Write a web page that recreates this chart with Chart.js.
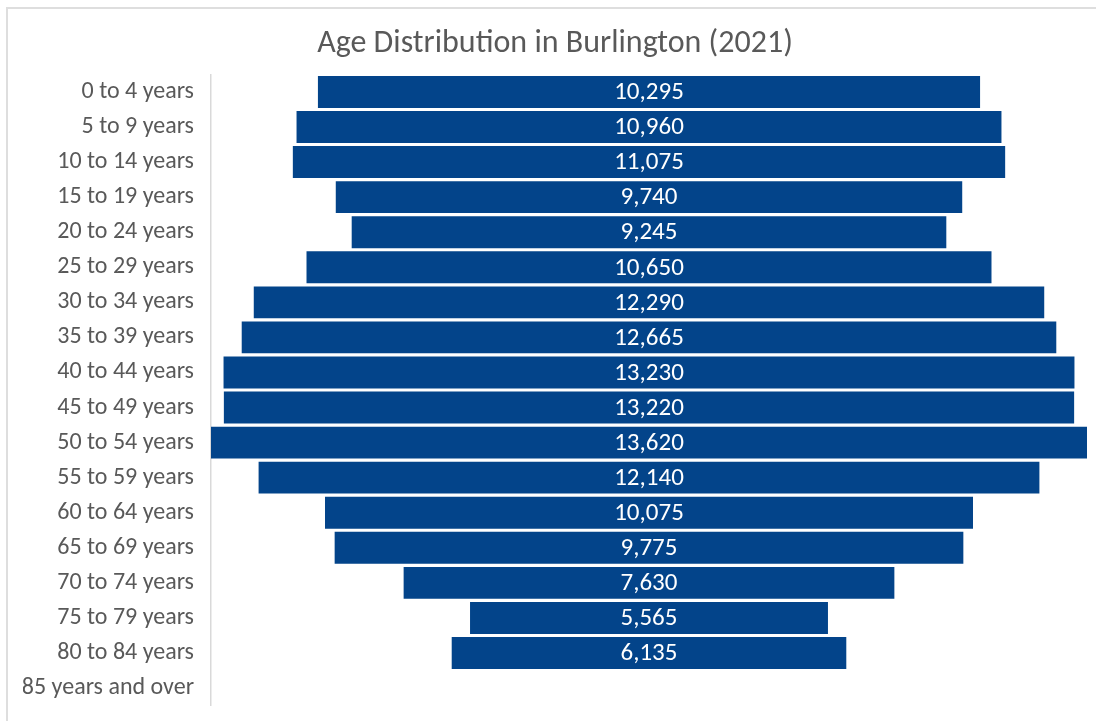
<!DOCTYPE html>
<html>
<head>
<meta charset="utf-8">
<script src="https://cdn.jsdelivr.net/npm/chart.js@4"></script>
<style>
  body { margin: 0; background: #fff; }
  #wrap { position: relative; width: 1096px; height: 721px; overflow: hidden; }
  #frame { position: absolute; left: 6px; top: 7px; width: 1200px; height: 800px;
           border-left: 2px solid #dedede; border-top: 2px solid #dedede; }
  canvas { position: absolute; left: 0; top: 0; }
</style>
</head>
<body>
<div id="wrap">
  <div id="frame"></div>
  <canvas id="pyramid" width="1096" height="737"></canvas>
</div>
<script>
var ageGroups = ['0 to 4 years', '5 to 9 years', '10 to 14 years', '15 to 19 years',
    '20 to 24 years', '25 to 29 years', '30 to 34 years', '35 to 39 years',
    '40 to 44 years', '45 to 49 years', '50 to 54 years', '55 to 59 years',
    '60 to 64 years', '65 to 69 years', '70 to 74 years', '75 to 79 years',
    '80 to 84 years', '85 years and over'];
var population = [10295, 10960, 11075, 9740, 9245, 10650, 12290, 12665,
    13230, 13220, 13620, 12140, 10075, 9775, 7630, 5565, 6135, null];

var fontFamily = "Carlito, Calibri, 'Open Sans', sans-serif";
var maxPop = Math.max.apply(null, population.filter(function (v) { return v !== null; }));

// bars centred on zero: each one runs from -v/2 to v/2
var centred = population.map(function (v) {
    return v === null ? null : [-v / 2, v / 2];
});

var barLabels = {
    id: 'barLabels',
    afterDatasetsDraw: function (chart) {
        var ctx = chart.ctx;
        var meta = chart.getDatasetMeta(0);
        ctx.save();
        ctx.fillStyle = '#ffffff';
        ctx.font = '25px ' + fontFamily;
        ctx.textAlign = 'center';
        ctx.textBaseline = 'middle';
        meta.data.forEach(function (bar, i) {
            if (population[i] === null) return;
            var x = chart.scales.x.getPixelForValue(0);
            ctx.fillText(population[i].toLocaleString('en-US'), x, bar.y + 1);
        });
        ctx.restore();
    }
};

var ctx = document.getElementById('pyramid').getContext('2d');
var myChart = new Chart(ctx, {
    type: 'bar',
    data: {
        labels: ageGroups,
        datasets: [{
            label: 'Population',
            data: centred,
            backgroundColor: '#03448a',
            borderWidth: 0,
            barPercentage: 0.91,
            categoryPercentage: 1
        }]
    },
    options: {
        indexAxis: 'y',
        responsive: false,
        animation: false,
        layout: { padding: { left: 23, right: 9, top: 0, bottom: 0 } },
        plugins: {
            legend: { display: false },
            tooltip: { enabled: false },
            title: {
                display: true,
                text: 'Age Distribution in Burlington (2021)',
                color: '#595959',
                font: { family: fontFamily, size: 32, weight: 'normal' },
                padding: { top: 25, bottom: 11 }
            }
        },
        scales: {
            x: {
                display: false,
                min: -maxPop / 2,
                max: maxPop / 2
            },
            y: {
                grid: { display: false, drawTicks: false },
                border: { display: true, color: '#d9d9d9', width: 1.5 },
                ticks: {
                    color: '#595959',
                    padding: 17,
                    font: { family: fontFamily, size: 24 }
                },
                afterFit: function (scale) { scale.width = 188; }
            }
        }
    },
    plugins: [barLabels]
});
</script>
</body>
</html>
